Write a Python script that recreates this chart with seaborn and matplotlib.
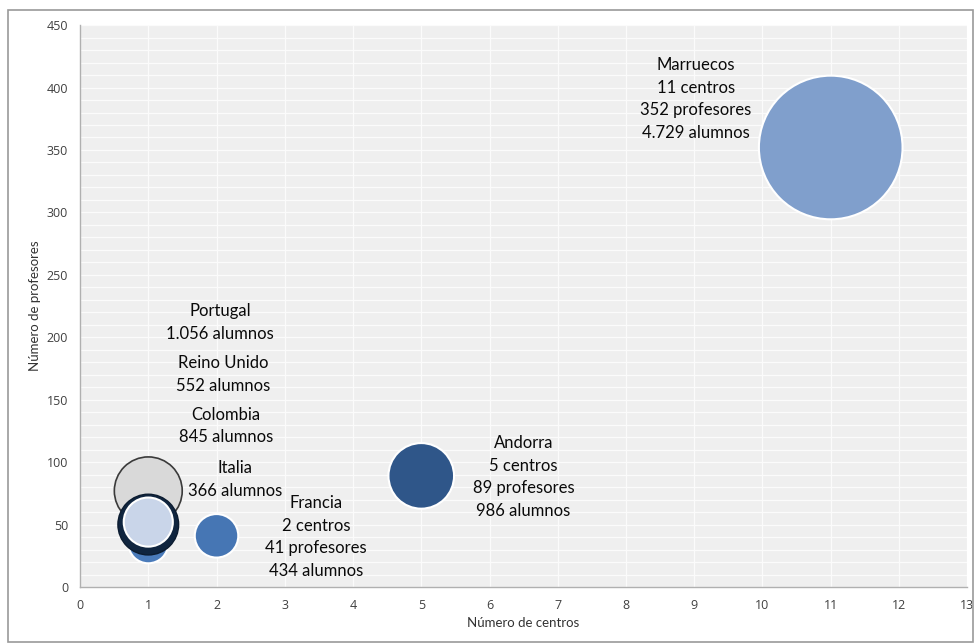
import pandas as pd
import numpy as np
import matplotlib.pyplot as plt
import seaborn as sns
from matplotlib.ticker import MultipleLocator
from matplotlib.patches import Rectangle

# datos
paises = ["Marruecos", "Andorra", "Francia", "Portugal", "Italia", "Colombia", "Reino Unido"]
centros = [11, 5, 2, 1, 1, 1, 1]
profesores = [352, 89, 41, 77, 35, 50, 52]
alumnos = [4729, 986, 434, 1056, 366, 845, 552]

etiquetas = [
    "Marruecos\n11 centros\n352 profesores\n4.729 alumnos",
    "Andorra\n5 centros\n89 profesores\n986 alumnos",
    "Francia\n2 centros\n41 profesores\n434 alumnos",
    "Portugal\n1.056 alumnos",
    "Italia\n366 alumnos",
    "Colombia\n845 alumnos",
    "Reino Unido\n552 alumnos",
]
colores = ["#809fcc", "#2f5689", "#4676b4", "#d9d9d9", "#4a7bba", "#10253f", "#c9d5e9"]
bordes = ["white", "white", "white", "#3a3a3a", "white", "#0c1c30", "white"]
grosor = [1.5, 1.5, 1.5, 1.2, 1.5, 1.0, 1.5]

# posiciones de las etiquetas (centro del bloque de texto)
pos_etiquetas = [(9.02, 391), (6.5, 88), (3.46, 40), (2.05, 212), (2.27, 86), (2.14, 129), (2.1, 170)]

df = pd.DataFrame({"pais": paises, "centros": centros, "profesores": profesores, "alumnos": alumnos})

sns.set_style("white")
plt.rcParams["font.family"] = ["Open Sans", "DejaVu Sans"]

fig = plt.figure(figsize=(9.76, 6.44), dpi=100)
ax = fig.add_axes([0.082, 0.0885, 0.909, 0.8725])
ax.set_facecolor("#efefef")

k = 10700 / 4729
sns.scatterplot(data=df, x="centros", y="profesores", hue="pais",
                palette=dict(zip(paises, colores)), size="alumnos",
                sizes=(0, 4729 * k), size_norm=(0, 4729), legend=False,
                edgecolor=bordes, linewidth=grosor, alpha=1, ax=ax, zorder=3)

for (tx, ty), txt in zip(pos_etiquetas, etiquetas):
    ax.text(tx, ty, txt, ha="center", va="center", fontsize=12,
            family=["Lato", "DejaVu Sans"], color="#0a0a0a", linespacing=1.5, zorder=4)

ax.set_xlim(0, 13)
ax.set_ylim(0, 450)
ax.xaxis.set_major_locator(MultipleLocator(1))
ax.yaxis.set_major_locator(MultipleLocator(50))
ax.yaxis.set_minor_locator(MultipleLocator(10))
ax.grid(which="major", axis="x", color="#fbfbfb", linewidth=0.9)
ax.grid(which="minor", axis="y", color="#fbfbfb", linewidth=0.9)
ax.grid(which="major", axis="y", color="#fbfbfb", linewidth=0.9)
ax.set_axisbelow(True)

for s in ["top", "right"]:
    ax.spines[s].set_visible(False)
for s in ["left", "bottom"]:
    ax.spines[s].set_color("#b0b0b0")
    ax.spines[s].set_linewidth(1.0)
ax.tick_params(which="major", direction="out", length=5, color="#b0b0b0",
               labelsize=9, labelcolor="#404040")
ax.tick_params(which="minor", length=0)

ax.set_xlabel("Número de centros", fontsize=9.5, color="#333333",
              family=["Lato", "DejaVu Sans"])
ax.set_ylabel("Número de profesores", fontsize=9.5, color="#333333",
              family=["Lato", "DejaVu Sans"])

fig.patches.append(Rectangle((0.008, 0.003), 0.989, 0.982, transform=fig.transFigure,
                             fill=False, edgecolor="#9a9a9a", linewidth=1.2))

fig.savefig("out.png", dpi=100)
